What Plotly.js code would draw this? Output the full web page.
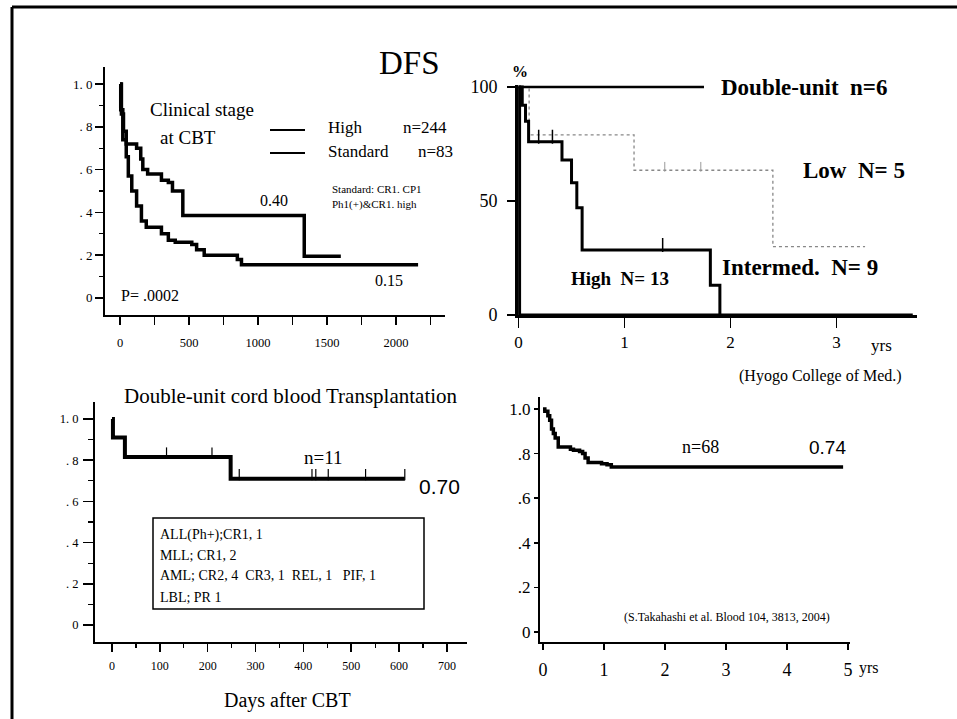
<!DOCTYPE html>
<html>
<head>
<meta charset="utf-8">
<script src="https://cdn.plot.ly/plotly-3.0.1.min.js"></script>
<style>html,body{margin:0;padding:0;background:#fff;}#chart{width:957px;height:719px;}</style>
</head>
<body>
<div id="chart"></div>
<script>
// ---------- DATA ----------
// Panel 1: DFS by clinical stage (days)
const stdDays  = [0, 10, 25, 45, 120, 150, 165, 200, 300, 350, 380, 455, 1335, 1600];
const stdSurv  = [1.0, 0.86, 0.78, 0.72, 0.70, 0.65, 0.60, 0.58, 0.55, 0.54, 0.50, 0.385, 0.195, 0.195];
const highDays = [0, 5, 20, 45, 60, 85, 120, 155, 190, 300, 350, 400, 520, 555, 610, 850, 880, 2160];
const highSurv = [1.0, 0.88, 0.74, 0.66, 0.57, 0.50, 0.43, 0.36, 0.33, 0.30, 0.27, 0.26, 0.25, 0.225, 0.20, 0.18, 0.155, 0.155];
const p1XTicks = [0, 500, 1000, 1500, 2000];
const p1YTicks = [0, 0.2, 0.4, 0.6, 0.8, 1.0];
const p1YLabels = ['0', '. 2', '. 4', '. 6', '. 8', '1. 0'];

// Panel 2: Hyogo College of Med. (years, %)
const duYrs = [0, 1.75];
const duPct = [100, 100];
const duCensor = [0.58, 0.75, 1.17, 1.2, 1.51, 1.75];
const intYrs = [0, 0.035, 0.066, 0.095, 0.41, 0.5, 0.55, 0.6, 1.81, 1.9];
const intPct = [100, 92, 85, 76, 68, 58, 47, 28.5, 13, 0];
const intCensor = [0.19, 0.32, 1.36];
const lowYrs = [0, 0.1, 1.09, 2.4, 3.27];
const lowPct = [100, 79, 63.5, 30, 30];
const lowCensor = [1.38, 1.72];
const hiYrs = [0, 0.01, 3.72];
const hiPct = [100, 0, 0];
const p2XTicks = [0, 1, 2, 3];
const p2YTicks = [0, 50, 100];

// Panel 3: double-unit CBT (days)
const dcbDays = [0, 2, 27, 248, 612];
const dcbSurv = [1.0, 0.91, 0.815, 0.71, 0.71];
const dcbCensor = [114, 209, 266, 418, 426, 452, 530, 612];
const p3XTicks = [0, 100, 200, 300, 400, 500, 600, 700];
const p3YTicks = [0, 0.2, 0.4, 0.6, 0.8, 1.0];
const p3YLabels = ['0', '. 2', '. 4', '. 6', '. 8', '1. 0'];

// Panel 4: Takahashi et al. (years)
const tkYrs  = [0, 0.03, 0.08, 0.11, 0.14, 0.17, 0.2, 0.25, 0.45, 0.5, 0.6, 0.65, 0.69, 0.74, 0.96, 1.05, 1.12, 4.92];
const tkSurv = [1.0, 0.99, 0.97, 0.95, 0.91, 0.89, 0.87, 0.83, 0.82, 0.815, 0.81, 0.80, 0.78, 0.76, 0.755, 0.75, 0.74, 0.74];
const p4XTicks = [0, 1, 2, 3, 4, 5];
const p4YTicks = [0, 0.2, 0.4, 0.6, 0.8, 1.0];
const p4YLabels = ['0', '.2', '.4', '.6', '.8', '1.0'];

// ---------- HELPERS ----------
const SERIF = 'Liberation Serif, Times New Roman, serif';
const SANS = 'Liberation Sans, Arial, sans-serif';
const W = 957, H = 719;
const px = x => x / W;
const py = y => 1 - y / H;
function stepAt(ts, ss, t) { let v = ss[0]; for (let i = 0; i < ts.length; i++) { if (ts[i] <= t) v = ss[i]; } return v; }

function curve(x, y, xa, ya, w, color, dash) {
  return {x: x, y: y, xaxis: xa, yaxis: ya, type: 'scatter', mode: 'lines',
    line: {shape: 'hv', width: w, color: color || '#000', dash: dash || 'solid'},
    hoverinfo: 'skip', showlegend: false, cliponaxis: false};
}
function censor(times, ts, ss, off, xa, ya, size, color, w) {
  return {x: times, y: times.map(t => stepAt(ts, ss, t) + off), xaxis: xa, yaxis: ya,
    type: 'scatter', mode: 'markers',
    marker: {symbol: 'line-ns', size: size, line: {width: w || 1.5, color: color || '#000'}},
    hoverinfo: 'skip', showlegend: false, cliponaxis: false};
}

const traces = [
  curve(stdDays, stdSurv, 'x', 'y', 3.5),
  curve(highDays, highSurv, 'x', 'y', 3.5),
  curve(lowYrs, lowPct, 'x2', 'y2', 1.3, '#888', 'dot'),
  censor(lowCensor, lowYrs, lowPct, 1.5, 'x2', 'y2', 7, '#999', 1),
  curve(duYrs, duPct, 'x2', 'y2', 2.5),
  censor(duCensor, duYrs, duPct, 2.2, 'x2', 'y2', 10),
  curve(intYrs, intPct, 'x2', 'y2', 3),
  censor(intCensor, intYrs, intPct, 2.2, 'x2', 'y2', 10),
  curve(hiYrs, hiPct, 'x2', 'y2', 3),
  curve(dcbDays, dcbSurv, 'x3', 'y3', 4),
  censor(dcbCensor, dcbDays, dcbSurv, 0.02, 'x3', 'y3', 8, '#000', 1.2),
  curve(tkYrs, tkSurv, 'x4', 'y4', 3.5)
];

function xAx(dom, range, anchor, tickvals, ticktext, fs, tlen, standoff, lw, minor) {
  const a = {domain: dom, range: range, anchor: anchor, showline: true, linecolor: '#000', linewidth: lw,
    showgrid: false, zeroline: false, ticks: 'outside', ticklen: tlen, tickwidth: 1.5, tickcolor: '#000',
    tickvals: tickvals, tickfont: {family: SERIF, size: fs, color: '#000'}, ticklabelstandoff: standoff, fixedrange: true};
  if (ticktext) a.ticktext = ticktext;
  if (minor) a.minor = minor;
  return a;
}

const layout = {
  width: W, height: H, margin: {l: 0, r: 0, t: 0, b: 0},
  paper_bgcolor: '#fff', plot_bgcolor: 'rgba(0,0,0,0)', showlegend: false,
  font: {family: SERIF, color: '#000'},
  xaxis: xAx([px(105), px(445)], [-109, 2355], 'y', p1XTicks, null, 12.5, 8, 7, 2,
    {dtick: 250, tick0: 0, ticks: 'outside', ticklen: 8, tickwidth: 1.5, tickcolor: '#000'}),
  yaxis: xAx([py(315), py(67)], [-0.08, 1.08], 'x', p1YTicks, p1YLabels, 13, 8, 0, 2,
    {dtick: 0.1, tick0: 0, ticks: 'outside', ticklen: 4, tickwidth: 1.2, tickcolor: '#000'}),
  xaxis2: xAx([px(518), px(917)], [-0.005, 3.76], 'y2', p2XTicks, null, 17, 10, 0, 3),
  yaxis2: xAx([py(315), py(85)], [0, 100.9], 'x2', p2YTicks, null, 18, 8, 6, 3),
  xaxis3: xAx([px(95), px(467)], [-35.5, 742], 'y3', p3XTicks, null, 12, 8, 4, 2,
    {dtick: 50, tick0: 0, ticks: 'outside', ticklen: 4, tickwidth: 1.2, tickcolor: '#000'}),
  yaxis3: xAx([py(642), py(402)], [-0.0825, 1.0825], 'x3', p3YTicks, p3YLabels, 12.5, 10, 2, 2,
    {dtick: 0.1, tick0: 0, ticks: 'outside', ticklen: 5, tickwidth: 1.2, tickcolor: '#000'}),
  xaxis4: xAx([px(540), px(850)], [-0.049, 5.033], 'y4', p4XTicks, null, 18, 6, 4, 2),
  yaxis4: xAx([py(642), py(397)], [-0.045, 1.054], 'x4', p4YTicks, p4YLabels, 17, 4, 0, 2),
  shapes: [
    {type: 'line', xref: 'paper', yref: 'paper', x0: px(12), x1: 1, y0: py(7), y1: py(7), line: {color: '#000', width: 3}},
    {type: 'line', xref: 'paper', yref: 'paper', x0: px(12), x1: px(12), y0: py(7), y1: 0, line: {color: '#000', width: 3}},
    {type: 'line', xref: 'paper', yref: 'paper', x0: px(270), x1: px(305), y0: py(130), y1: py(130), line: {color: '#000', width: 2}},
    {type: 'line', xref: 'paper', yref: 'paper', x0: px(270), x1: px(305), y0: py(153), y1: py(153), line: {color: '#000', width: 2}},
    {type: 'rect', xref: 'paper', yref: 'paper', x0: px(153), x1: px(424), y0: py(609), y1: py(518), line: {color: '#000', width: 1.5}}
  ],
  annotations: []
};

function note(text, x, y, size, opts) {
  opts = opts || {};
  layout.annotations.push({text: text, xref: 'paper', yref: 'paper', x: px(x), y: py(y),
    xanchor: opts.anchor || 'left', yanchor: 'middle', showarrow: false,
    font: {family: opts.family || SERIF, size: size, color: '#000'}});
}
// Panel 1
note('DFS', 409, 63, 33, {anchor: 'center'});
note('Clinical stage', 202, 109, 19, {anchor: 'center'});
note('at CBT', 188, 137, 19, {anchor: 'center'});
note('High', 326, 128, 17);
note('n=244', 401, 128, 17);
note('Standard', 326, 152, 17);
note('n=83', 416, 152, 17);
note('Standard: CR1. CP1', 330, 189, 11);
note('Ph1(+)&amp;CR1. high', 330, 205, 11);
note('0.40', 258, 201, 16);
note('0.15', 373, 281, 16);
note('P= .0002', 119, 295, 16);
// Panel 2
note('<b>%</b>', 520, 71, 16, {anchor: 'center'});
note('<b>Double-unit  n=6</b>', 719, 87, 23);
note('<b>Low  N= 5</b>', 801, 170, 23);
note('<b>Intermed.  N= 9</b>', 720, 267, 23);
note('<b>High  N= 13</b>', 569, 279, 19);
note('yrs', 869, 345, 17);
note('(Hyogo College of Med.)', 737, 376, 16);
// Panel 3
note('Double-unit cord blood Transplantation', 122, 396, 21);
note('n=11', 302, 457, 19);
note('0.70', 417, 486, 21, {family: SANS});
note('ALL(Ph+);CR1, 1', 158, 535, 14);
note('MLL; CR1, 2', 158, 555, 14);
note('AML; CR2, 4  CR3, 1  REL, 1   PIF, 1', 158, 575, 14);
note('LBL; PR 1', 158, 597, 14);
note('Days after CBT', 287, 700, 20, {anchor: 'center'});
// Panel 4
note('n=68', 680, 447, 18);
note('0.74', 807, 447, 19, {family: SANS});
note('(S.Takahashi et al. Blood 104, 3813, 2004)', 622, 617, 12);
note('yrs', 857, 668, 16);

Plotly.newPlot('chart', traces, layout, {staticPlot: true, displayModeBar: false});
</script>
</body>
</html>
